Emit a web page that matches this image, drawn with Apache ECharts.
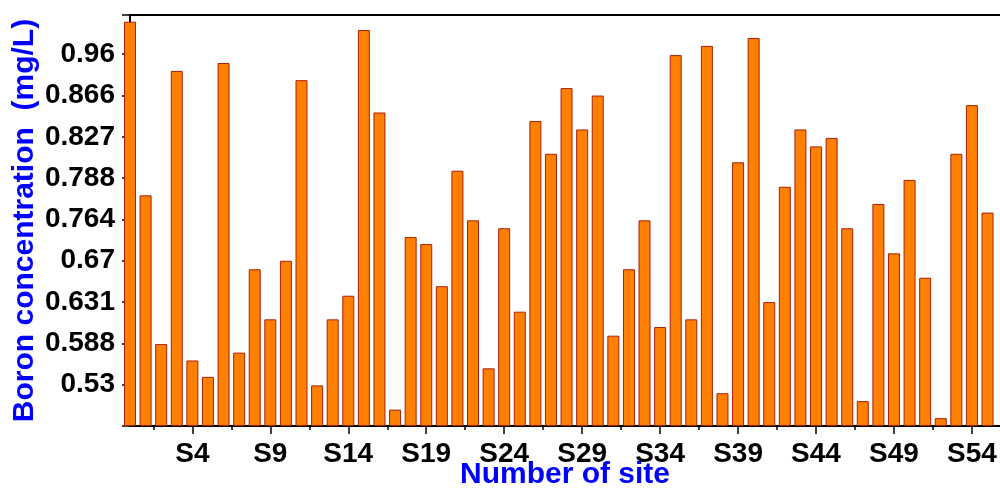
<!DOCTYPE html>
<html><head><meta charset="utf-8">
<script src="https://cdn.jsdelivr.net/npm/echarts@6/dist/echarts.min.js"></script>
<style>html,body{margin:0;padding:0;background:#fff}#c{width:1000px;height:488px}</style>
</head><body><div id="c"></div>
<script>
// Tick labels of the (unevenly labelled) y axis, bottom to top, equally spaced on the picture
const yTickLabels = ['0.53','0.588','0.631','0.67','0.764','0.788','0.827','0.866','0.96'];
const yTickValues = yTickLabels.map(Number);

// Boron concentration (mg/L) per site S0..S55
const boron = [
  1.034, 0.778, 0.587, 0.922, 0.564, 0.541, 0.940, 0.575, 0.662, 0.613,
  0.670, 0.901, 0.529, 0.613, 0.637, 1.015, 0.850, 0.495, 0.724, 0.708,
  0.646, 0.795, 0.762, 0.553, 0.744, 0.621, 0.842, 0.811, 0.883, 0.834,
  0.866, 0.596, 0.662, 0.762, 0.605, 0.958, 0.613, 0.979, 0.518, 0.803,
  0.997, 0.631, 0.783, 0.834, 0.818, 0.826, 0.744, 0.507, 0.773, 0.687,
  0.787, 0.654, 0.483, 0.811, 0.857, 0.768
];

// Labelled x ticks (site numbers) and the unlabelled ticks between them
const xLabelSites = [4, 9, 14, 19, 24, 29, 34, 39, 44, 49, 54];
const xMinorTicks = [1.5, 6.5, 11.5, 16.5, 21.5, 26.5, 31.5, 36.5, 41.5, 46.5, 51.5];

// Piecewise-linear scale: tick k (1..9) carries label yTickValues[k-1]
function toAxis(v) {
  const t = yTickValues, n = t.length;
  if (v <= t[0]) return 1 + (v - t[0]) / (t[1] - t[0]);
  if (v >= t[n - 1]) return n + (v - t[n - 1]) / (t[n - 1] - t[n - 2]);
  for (let i = 0; i < n - 1; i++) {
    if (v >= t[i] && v <= t[i + 1]) return 1 + i + (v - t[i]) / (t[i + 1] - t[i]);
  }
}

const FONT = "'Liberation Sans', Arial, sans-serif";
const X_MAX = 55.8, Y_MAX = 9.95;

const chart = echarts.init(document.getElementById('c'), null, {renderer: 'canvas'});
chart.setOption({
  animation: false,
  backgroundColor: '#ffffff',
  grid: {left: 130, right: 0, top: 15, bottom: 62, containLabel: false, outerBoundsMode: 'none'},
  xAxis: [
    {
      type: 'value', min: 0, max: X_MAX, position: 'bottom',
      name: 'Number of site', nameLocation: 'middle', nameGap: 34, nameMoveOverlap: false,
      nameTextStyle: {color: '#0000ff', fontWeight: 'bold', fontSize: 30, fontFamily: FONT},
      axisLine: {show: true, onZero: false, lineStyle: {color: '#000', width: 2}},
      axisTick: {show: true, inside: false, length: 8, customValues: xLabelSites, lineStyle: {color: '#000', width: 1.5}},
      axisLabel: {show: true, customValues: xLabelSites, margin: 14, color: '#000', fontWeight: 'bold', fontSize: 28, fontFamily: FONT,
        formatter: v => 'S' + Math.round(v)},
      splitLine: {show: false}
    },
    {
      type: 'value', min: 0, max: X_MAX, position: 'bottom', gridIndex: 0,
      axisLine: {show: false, onZero: false},
      axisTick: {show: true, inside: false, length: 4, customValues: xMinorTicks, lineStyle: {color: '#000', width: 1.5}},
      axisLabel: {show: false},
      splitLine: {show: false}
    },
    {
      type: 'value', min: 0, max: X_MAX, position: 'top', gridIndex: 0,
      axisLine: {show: true, onZero: false, lineStyle: {color: '#000', width: 2}},
      axisTick: {show: false}, axisLabel: {show: false}, splitLine: {show: false}
    }
  ],
  yAxis: {
    type: 'value', min: 0, max: Y_MAX, interval: 1,
    name: 'Boron concentration  (mg/L)', nameLocation: 'middle', nameGap: 90, nameRotate: 90, nameMoveOverlap: false,
    nameTextStyle: {color: '#0000ff', fontWeight: 'bold', fontSize: 30, fontFamily: FONT},
    axisLine: {show: true, onZero: false, lineStyle: {color: '#000', width: 2}},
    axisTick: {show: true, inside: false, length: 8, customValues: [0, 1, 2, 3, 4, 5, 6, 7, 8, 9, Y_MAX],
      lineStyle: {color: '#000', width: 1.5}},
    axisLabel: {show: true, customValues: [1, 2, 3, 4, 5, 6, 7, 8, 9], margin: 15, color: '#000',
      fontWeight: 'bold', fontSize: 28, fontFamily: FONT,
      formatter: v => { const k = Math.round(v); return (k >= 1 && k <= yTickLabels.length) ? yTickLabels[k - 1] : ''; }},
    splitLine: {show: false}
  },
  series: [{
    type: 'bar',
    xAxisIndex: 0,
    barWidth: 12,
    clip: true,
    data: boron.map((v, i) => [i, toAxis(v)]),
    itemStyle: {color: '#ff8000', borderColor: '#a8200c', borderWidth: 1}
  }]
});
</script></body></html>
